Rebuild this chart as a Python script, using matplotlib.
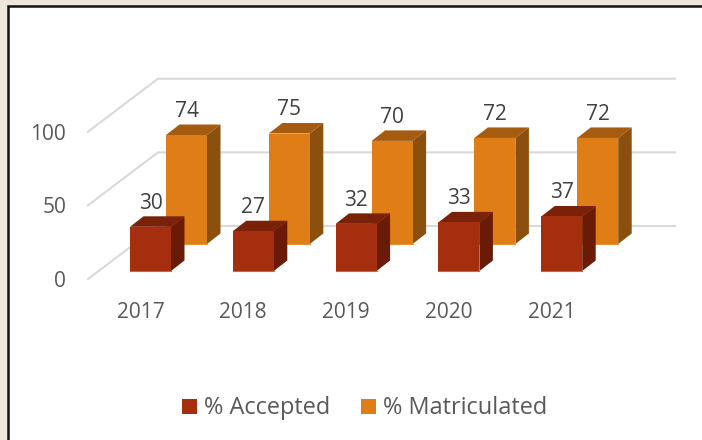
#!/usr/bin/env python
from matplotlib import pyplot as plt
from matplotlib.patches import Polygon, Rectangle

#DATA------------------------------------------
years = ['2017', '2018', '2019', '2020', '2021']
accepted = [30, 27, 32, 33, 37]
matriculated = [74, 75, 70, 72, 72]
yticks = [0, 50, 100]
#----------------------------------------------

#CONFIGS sizes in pixels of the 702x440 image---
W = 702; H = 440
STEP = 102.8     # px between categories
UNIT = 1.473     # px per value unit
X0 = 150.5       # px centre of first front bar
Y0 = 271         # px baseline of front bars
BARW = 41/STEP
DX = 13.5/STEP   # bar depth
DY = 10.5/UNIT
ROWX = 36/STEP   # front row to back row
ROWY = 27/UNIT

RED = ('#a52e0e', '#7a2209', '#6a1b07', '#c9664c')
ORANGE = ('#df7d17', '#a55c10', '#8b500e', '#e8933a')
GRID = '#d9d9d9'
TEXT = '#595959'
LABEL = '#404040'
#----------------------------------------------

plt.rcParams['font.family'] = ['Open Sans', 'DejaVu Sans']

fig = plt.figure(figsize=(W/100, H/100), dpi=100, facecolor='#ece6dc')
ax = fig.add_axes([0, 0, 1, 1])
ax.set_xlim((0-X0)/STEP, (W-X0)/STEP)
ax.set_ylim((Y0-H)/UNIT, Y0/UNIT)
ax.axis('off')


def px(x, y):
  return (x-X0)/STEP, (Y0-y)/UNIT


def bar3d(x, base, val, col):
  l = x-BARW/2; r = x+BARW/2
  t = base+val
  top = [(l, t), (r, t), (r+DX, t+DY), (l+DX, t+DY)]
  side = [(r, base), (r+DX, base+DY), (r+DX, t+DY), (r, t)]
  ax.add_patch(Polygon(top, fc=col[1], ec='none', zorder=3))
  ax.add_patch(Polygon(side, fc=col[2], ec='none', zorder=3))
  ax.add_patch(Rectangle((l, base), BARW, val, fc=col[0], ec='none', zorder=3))
  ax.plot([l, r], [base, base], color=col[3], lw=0.8, zorder=3)
  return x, t


#chart panel
ax.add_patch(Rectangle(px(8, H+5), (W+5-8)/STEP, (H+5-6)/UNIT, fc='white', ec='#111111', lw=1.8, zorder=0))

#walls: gridlines and depth lines
for v in yticks:
  fx, fy = px(88, 279-v*UNIT)
  bx, by = px(158, 226-v*UNIT)
  ex, _ = px(675, 0)
  ax.plot([fx, bx, ex], [fy, by, by], color=GRID, lw=1.5, solid_joinstyle='miter', zorder=1)
  ax.text(*px(66, 287-v*UNIT), str(v), ha='right', va='baseline', fontsize=15, color=TEXT)

#back row first, then front row
for i, v in enumerate(matriculated):
  x, t = bar3d(i+ROWX, ROWY, v, ORANGE)
  ax.text(x, t+DY+5.3, str(v), ha='center', va='baseline', fontsize=15, color=LABEL, zorder=2)
for i, v in enumerate(accepted):
  x, t = bar3d(i, 0, v, RED)
  ax.text(x, t+DY+5.3, str(v), ha='center', va='baseline', fontsize=15, color=LABEL, zorder=4)

for i, y in enumerate(years):
  ax.text(i-10/STEP, (Y0-318)/UNIT, y, ha='center', va='baseline', fontsize=15, color=TEXT)

#legend
for lx, col, name in [(182, RED, '% Accepted'), (361, ORANGE, '% Matriculated')]:
  x, y = px(lx, 414)
  ax.add_patch(Rectangle((x, y), 15/STEP, 15/UNIT, fc=col[0], ec='none'))
  ax.text(*px(lx+22, 414), name, ha='left', va='baseline', fontsize=16.9, color=TEXT)

fig.savefig('out.png', dpi=100, facecolor=fig.get_facecolor())
